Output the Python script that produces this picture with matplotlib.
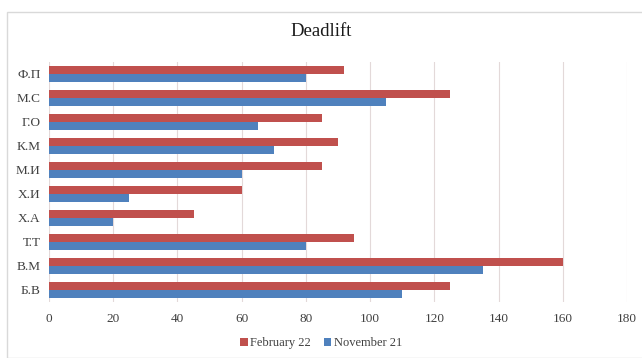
import matplotlib
matplotlib.use("Agg")
import matplotlib.pyplot as plt
import numpy as np
from matplotlib.patches import Rectangle

# Athletes (bottom to top) and deadlift results, kg
athletes = ["Б.В", "В.М", "Т.Т", "Х.А", "Х.И", "М.И", "К.М", "Г.О", "М.С", "Ф.П"]
february_22 = [125, 160, 95, 45, 60, 85, 90, 85, 125, 92]
november_21 = [110, 135, 80, 20, 25, 60, 70, 65, 105, 80]
x_ticks = [0, 20, 40, 60, 80, 100, 120, 140, 160, 180]

RED = "#C0504D"
BLUE = "#4F81BD"

plt.rcParams["font.family"] = ["Liberation Serif", "DejaVu Serif"]

W, H = 642, 358
fig = plt.figure(figsize=(W / 100, H / 100), dpi=100)

# chart frame
fig.patches.append(Rectangle((7 / W, 0), 1.0, (H - 12) / H, transform=fig.transFigure,
                             fill=False, edgecolor="#D9D9D9", linewidth=1.0))

ax = fig.add_axes([49 / W, 56 / H, 578 / W, 240 / H])

y = np.arange(len(athletes))
h = 0.33
ax.barh(y + h / 2, february_22, height=h, color=RED, label="February 22", zorder=3)
ax.barh(y - h / 2, november_21, height=h, color=BLUE, label="November 21", zorder=3)

ax.set_xlim(0, 180)
ax.set_ylim(-0.5, len(athletes) - 0.5)
ax.set_xticks(x_ticks)
ax.set_yticks(y)
ax.set_yticklabels(athletes)
ax.tick_params(axis="both", length=0, labelsize=9.5, colors="#404040")
ax.tick_params(axis="x", pad=8)
ax.tick_params(axis="y", pad=6)
ax.grid(axis="x", color="#E3D9D9", linewidth=0.8, zorder=0)
for s in ax.spines.values():
    s.set_visible(False)

fig.text(0.5, 1 - 32 / H, "Deadlift", ha="center", va="center", fontsize=13.5, color="#1a1a1a")

leg = fig.legend(loc="center", bbox_to_anchor=(0.5, 1 - 343 / H), ncol=2, frameon=False,
                 fontsize=9, handlelength=0.6, handleheight=0.6, handletextpad=0.2,
                 columnspacing=1.0)
for t in leg.get_texts():
    t.set_color("#404040")

fig.savefig("out.png", dpi=100)
